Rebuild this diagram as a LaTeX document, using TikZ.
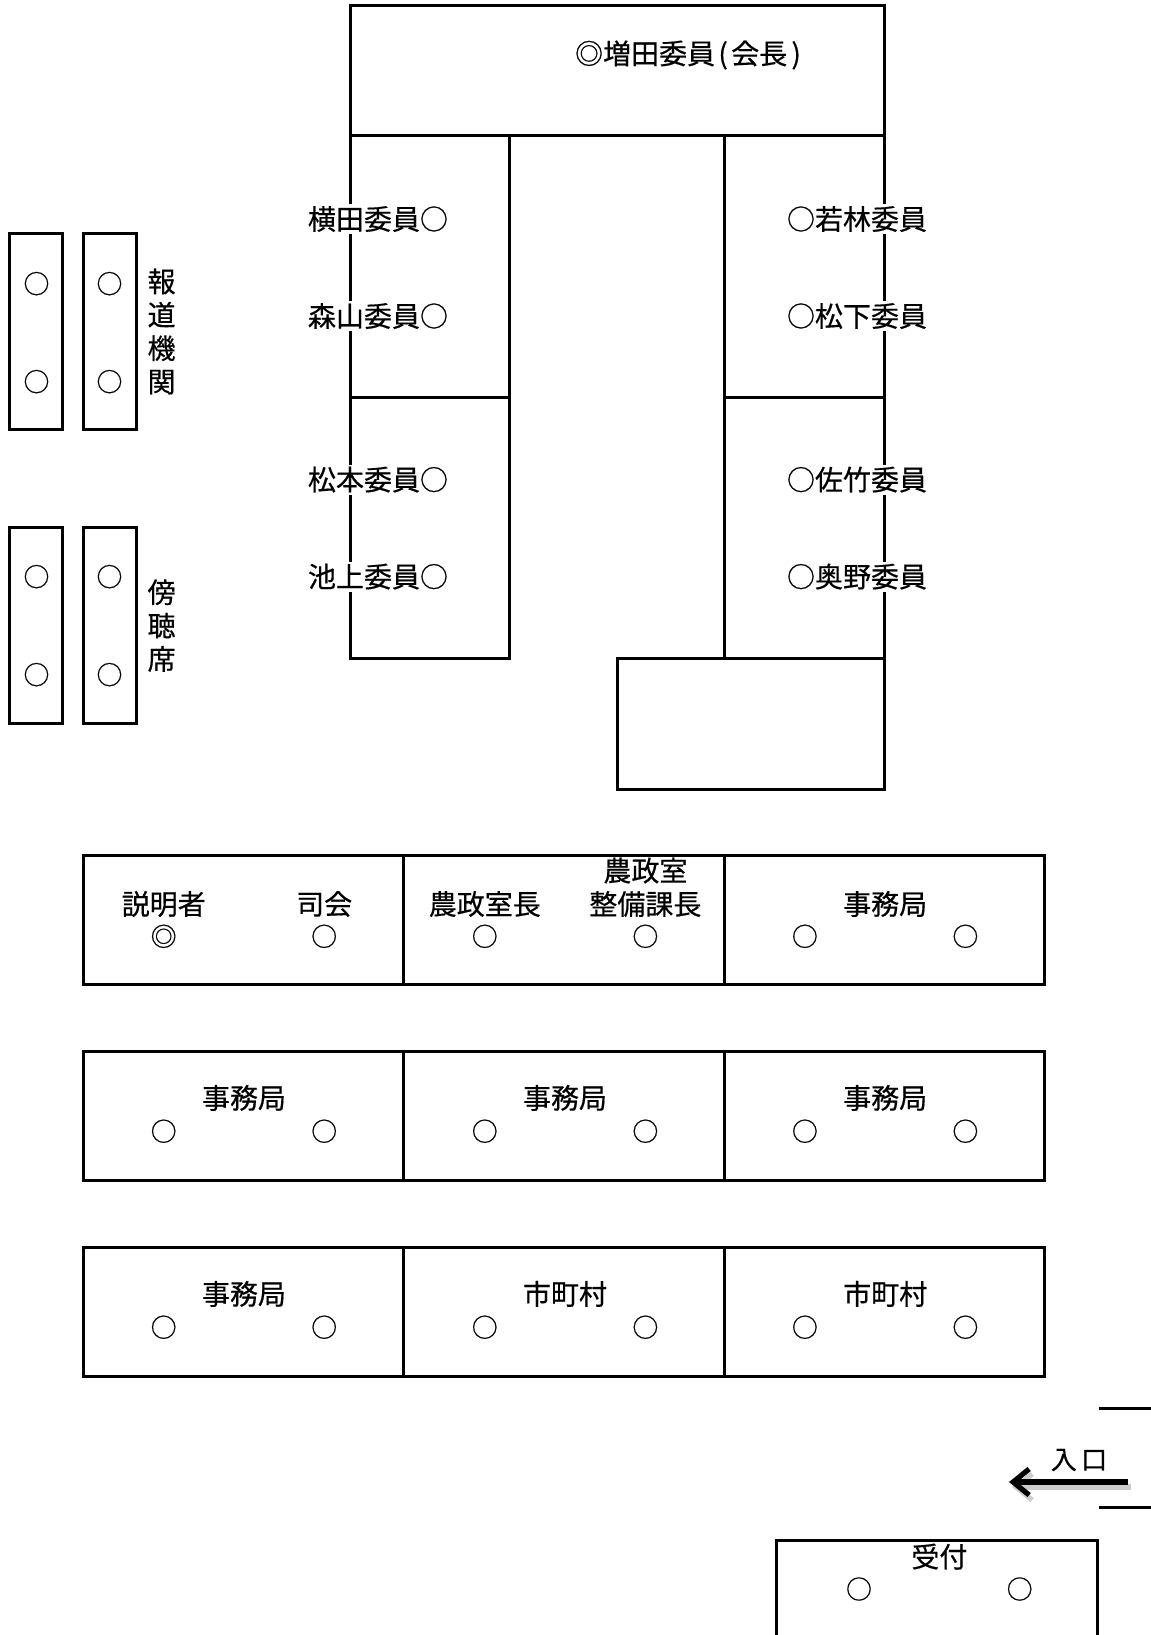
\documentclass[tikz,border=0pt]{standalone}
\usepackage{fontspec}
\setmainfont{Noto Sans CJK JP}[FakeBold=0.5]
\usetikzlibrary{arrows.meta}
\begin{document}
\begin{tikzpicture}[x=0.5pt,y=-0.5pt,
  wall/.style={line width=1.5pt},
  thinwall/.style={line width=1.2pt},
  lbl/.style={font=\fontsize{14}{16.7}\selectfont, inner sep=0pt, align=center},
  wlbl/.style={lbl, fill=white, inner sep=1pt},
  seat/.style={lbl, font=\fontsize{13}{15}\selectfont},
  entrarrow/.style={line width=2.6pt, -{Straight Barb[length=8pt,width=13pt]}},
]
\useasboundingbox (0,0) rectangle (1151,1635);

% ---- committee tables ----
\draw[wall] (350,5) rectangle (884,135.5);
\draw[wall] (350,135.5) -- (350,658.9) -- (509.8,658.9) -- (509.8,135.5);
\draw[wall] (350,397.2) -- (509.8,397.2);
\draw[wall] (724.6,135.5) -- (724.6,658.9);
\draw[wall] (884,135.5) -- (884,658.9);
\draw[wall] (724.6,397.2) -- (884,397.2);
\draw[wall] (617.2,658.9) rectangle (884,789.2);

\node[lbl] (chair) at (688,55) {◎増田委員\hspace{0.12em}(\hspace{0.12em}会長\hspace{0.15em})};
\node[wlbl] (yokota) at (378,219) {横田委員○};
\node[wlbl] (moriyama) at (378,316) {森山委員○};
\node[wlbl] (matsumoto) at (378,479.6) {松本委員○};
\node[wlbl] (ikegami) at (378,576.6) {池上委員○};
\node[wlbl] (wakabayashi) at (857,219) {○若林委員};
\node[wlbl] (matsushita) at (857,316) {○松下委員};
\node[wlbl] (satake) at (857,479.6) {○佐竹委員};
\node[wlbl] (okuno) at (857,576.6) {○奥野委員};

% ---- press and audience ----
\draw[wall] (9.4,233.5) rectangle (62.6,429.6);
\draw[wall] (83.4,233.5) rectangle (136.6,429.6);
\node[seat] (p1) at (36.5,283.6) {○};
\node[seat] (p2) at (36.5,381.6) {○};
\node[seat] (p3) at (109.5,283.6) {○};
\node[seat] (p4) at (109.5,381.6) {○};
\node[lbl] (press) at (161.6,331.5) {報\\道\\機\\関};

\draw[wall] (9.4,527.6) rectangle (62.6,723.6);
\draw[wall] (83.4,527.6) rectangle (136.6,723.6);
\node[seat] (a1) at (36.5,576.6) {○};
\node[seat] (a2) at (36.5,674.6) {○};
\node[seat] (a3) at (109.5,576.6) {○};
\node[seat] (a4) at (109.5,674.6) {○};
\node[lbl] (audience) at (161.6,625.6) {傍\\聴\\席};

% ---- rows of tables ----
\foreach \ya/\yb in {855/984.2, 1051/1180.2, 1247/1376.2}{
  \draw[wall] (83.4,\ya) rectangle (1044.7,\yb);
  \draw[thinwall] (403.5,\ya) -- (403.5,\yb);
  \draw[thinwall] (724.6,\ya) -- (724.6,\yb);
}

% row 1
\node[lbl] (setsumei) at (163.7,904) {説明者};
\node[seat] (s11) at (163.7,936.3) {◎};
\node[lbl] (shikai) at (324.2,904) {司会};
\node[seat] (s12) at (324.2,936.3) {○};
\node[lbl] (nousei) at (484.8,904) {農政室長};
\node[seat] (s13) at (484.8,936.3) {○};
\node[lbl] (seibi) at (645.4,887.3) {農政室\\整備課長};
\node[seat] (s14) at (645.4,936.3) {○};
\node[lbl] (jimu1) at (885.2,904) {事務局};
\node[seat] (s15) at (804.9,936.3) {○};
\node[seat] (s16) at (965.4,936.3) {○};

% row 2
\node[lbl] (jimu2) at (244,1097.9) {事務局};
\node[lbl] (jimu3) at (565,1097.9) {事務局};
\node[lbl] (jimu4) at (885.2,1097.9) {事務局};
\foreach \x [count=\i] in {163.7,324.2,484.8,645.4,804.9,965.4}{
  \node[seat] (r2s\i) at (\x,1131.2) {○};
  \node[seat] (r3s\i) at (\x,1327.2) {○};
}

% row 3
\node[lbl] (jimu5) at (244,1293.9) {事務局};
\node[lbl] (shichoson1) at (565,1293.9) {市町村};
\node[lbl] (shichoson2) at (885.2,1293.9) {市町村};

% ---- entrance ----
\draw[wall] (1099,1408) -- (1151,1408);
\draw[wall] (1099,1507) -- (1151,1507);
\coordinate (arrowstart) at (1128,1482);
\coordinate (arrowend) at (1009,1482);
\draw[entrarrow, gray!40] ([shift={(3,5)}]arrowstart) -- ([shift={(3,5)}]arrowend);
\draw[entrarrow] (arrowstart) -- (arrowend);
\node[lbl, font=\fontsize{13}{15}\selectfont] (iriguchi) at (1079,1460) {入\,口};

% ---- reception ----
\draw[wall] (776.7,1640) -- (776.7,1540) -- (1097.9,1540) -- (1097.9,1640);
\node[lbl] (uketsuke) at (939.4,1556.6) {受付};
\node[seat] (u1) at (859,1589) {○};
\node[seat] (u2) at (1019.7,1589) {○};
\end{tikzpicture}
\end{document}
